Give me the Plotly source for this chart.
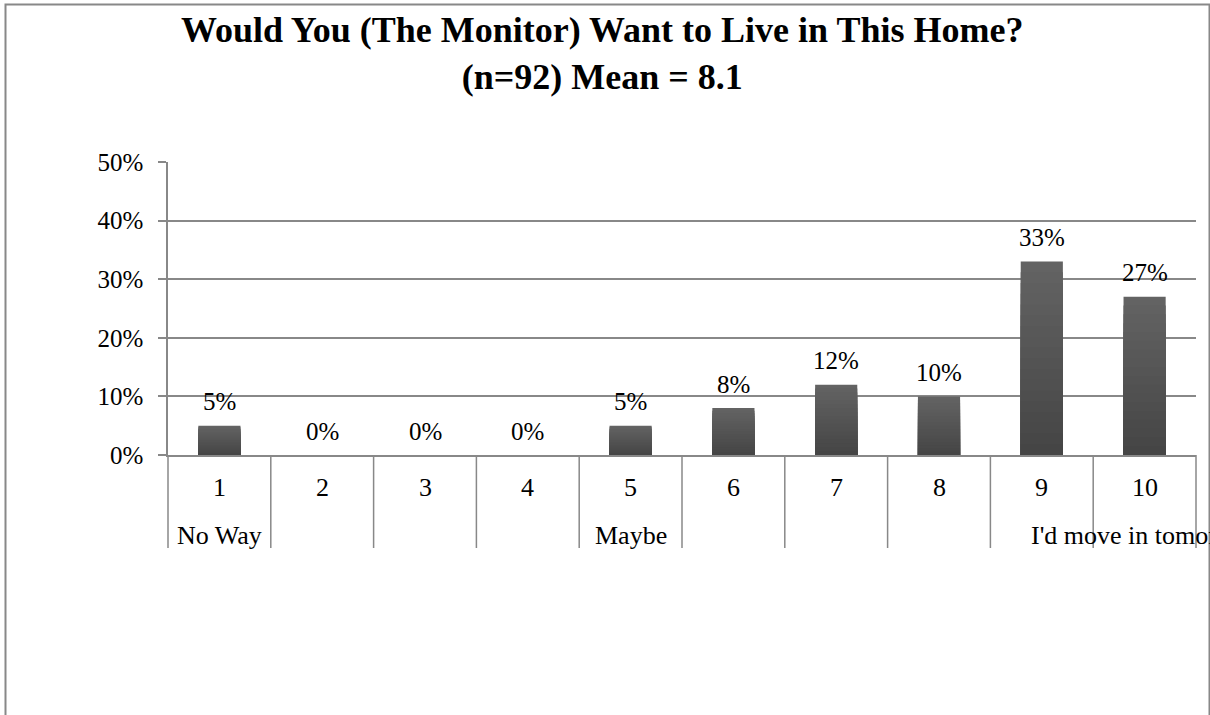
import plotly.graph_objects as go

# Survey responses: share of monitors choosing each score (percent)
scores = ["1", "2", "3", "4", "5", "6", "7", "8", "9", "10"]
shares = [5, 0, 0, 0, 5, 8, 12, 10, 33, 27]
anchor_labels = ["No Way", "", "", "", "Maybe", "", "", "", "", "I'd move in tomorrow"]
y_ticks = [0, 10, 20, 30, 40, 50]

TITLE = "<b>Would You (The Monitor) Want to Live in This Home?<br>(n=92) Mean = 8.1</b>"

W, H = 1210, 715
ML, MR, MT, MB = 168, 14, 162, 260
PW, PH = W - ML - MR, H - MT - MB
FONT = "Liberation Serif"
GRID = "#888888"


def px_x(p):
    return (p - ML) / PW


def px_y(p):
    return (H - MB - p) / PH


fig = go.Figure()

# Bars drawn as stacked overlay layers to give a top-to-bottom dark gradient
n_layers = 18
top_rgb, bot_rgb = (0x63, 0x63, 0x63), (0x45, 0x45, 0x45)
for k in range(n_layers):
    t = k / (n_layers - 1)
    c = tuple(round(a + (b - a) * t) for a, b in zip(top_rgb, bot_rgb))
    frac = 1 - k / n_layers
    fig.add_trace(go.Bar(
        x=scores,
        y=[v * frac for v in shares],
        marker=dict(color=f"rgb{c}", line=dict(width=0)),
        showlegend=False,
        hoverinfo="skip" if k else None,
    ))

annotations = []

# Value labels above bars (category positions by index)
for i, v in enumerate(shares):
    annotations.append(dict(
        x=i, y=v, xref="x", yref="y", text=f"{v}%", showarrow=False,
        yanchor="middle", yshift=24,
        font=dict(family=FONT, size=25, color="#000000"),
    ))

# Two-level category labels
for i, (s, lab) in enumerate(zip(scores, anchor_labels)):
    annotations.append(dict(
        x=i, y=px_y(487.5), xref="x", yref="paper", text=s, showarrow=False,
        yanchor="middle", font=dict(family=FONT, size=26, color="#000000"),
    ))
    if lab:
        annotations.append(dict(
            x=i, y=px_y(535), xref="x", yref="paper", text=lab, showarrow=False,
            yanchor="middle", xanchor="center",
            font=dict(family=FONT, size=26, color="#000000"),
        ))

# Title
annotations.append(dict(
    x=px_x(602), y=px_y(53.5), xref="paper", yref="paper", text=TITLE,
    showarrow=False, xanchor="center", yanchor="middle",
    font=dict(family=FONT, size=36, color="#000000"),
))

shapes = []
# Category separators below the axis
for i in range(len(scores) + 1):
    shapes.append(dict(
        type="line", xref="paper", yref="paper",
        x0=i / len(scores), x1=i / len(scores), y0=0, y1=px_y(548),
        line=dict(color=GRID, width=1.5),
    ))
# Chart border
shapes.append(dict(
    type="rect", xref="paper", yref="paper",
    x0=px_x(5.5), x1=px_x(1209.5), y0=px_y(4.5), y1=px_y(740),
    line=dict(color=GRID, width=2), fillcolor="rgba(0,0,0,0)", layer="below",
))

fig.update_layout(
    width=W, height=H,
    margin=dict(l=ML, r=MR, t=MT, b=MB, pad=0),
    paper_bgcolor="white", plot_bgcolor="white",
    barmode="overlay", bargap=0.59,
    showlegend=False,
    annotations=annotations,
    shapes=shapes,
    font=dict(family=FONT, size=25, color="#000000"),
    xaxis=dict(
        type="category", range=[-0.5, len(scores) - 0.5],
        showticklabels=False, ticks="", showgrid=False,
        showline=True, linecolor=GRID, linewidth=1.5, zeroline=False,
        fixedrange=True,
    ),
    yaxis=dict(
        range=[0, 50], tickmode="array", tickvals=y_ticks,
        ticktext=[f"{t}%" for t in y_ticks],
        ticks="outside", ticklen=8, tickcolor=GRID, tickwidth=1.5,
        ticklabelstandoff=10,
        showgrid=True, gridcolor=GRID, gridwidth=1.5,
        showline=True, linecolor=GRID, linewidth=1.5, zeroline=False,
        tickfont=dict(family=FONT, size=25, color="#000000"),
        fixedrange=True,
    ),
)

fig.write_html("out.html")
